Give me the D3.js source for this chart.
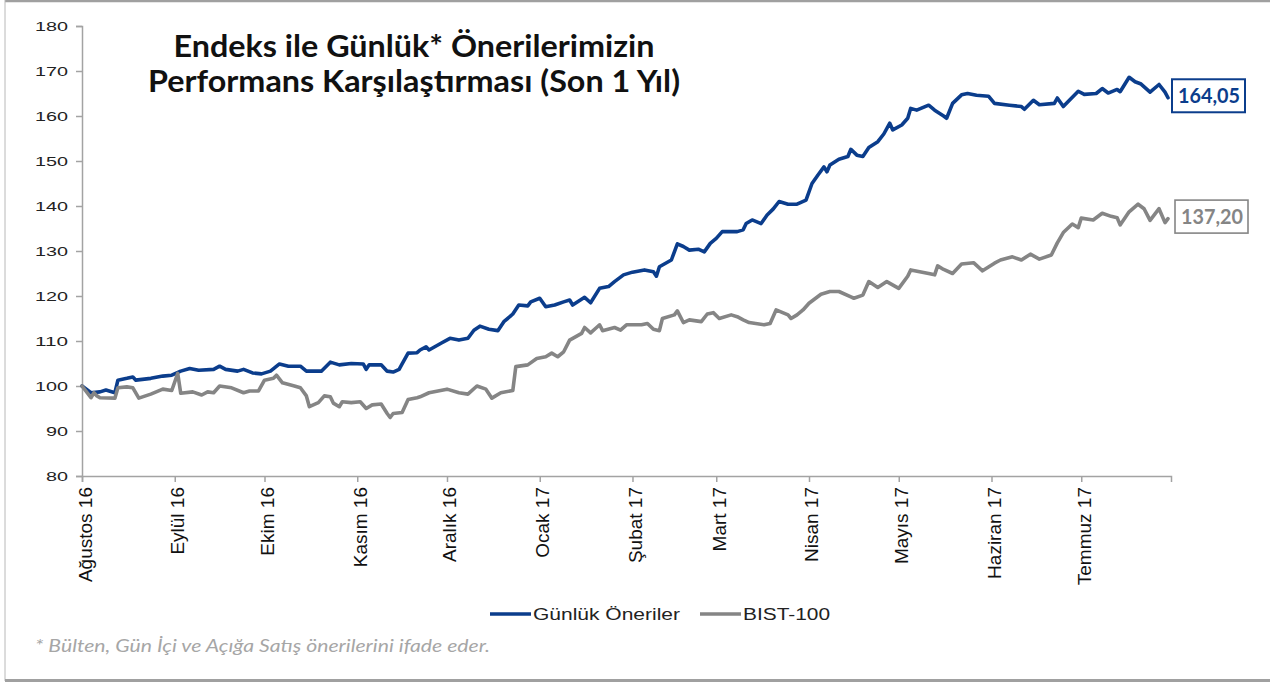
<!DOCTYPE html>
<html><head><meta charset="utf-8">
<script src="https://cdn.jsdelivr.net/npm/d3@7"></script>
<style>body{margin:0;background:#fff}svg{display:block}</style>
</head><body><svg id="c" width="1270" height="683"></svg>
<script>
const titleLines = ["Endeks ile Günlük* Önerilerimizin", "Performans Karşılaştırması (Son 1 Yıl)"];
const monthTicks = ["2016-08-01","2016-09-01","2016-10-01","2016-11-01","2016-12-01","2017-01-01","2017-02-01","2017-03-01","2017-04-01","2017-05-01","2017-06-01","2017-07-01"];
const monthLabels = ["Ağustos 16","Eylül 16","Ekim 16","Kasım 16","Aralık 16","Ocak 17","Şubat 17","Mart 17","Nisan 17","Mayıs 17","Haziran 17","Temmuz 17"];
const yTicks = [80,90,100,110,120,130,140,150,160,170,180];
const seriesNames = ["Günlük Öneriler","BIST-100"];
const endLabels = ["164,05","137,20"];
const footnote = "* Bülten, Gün İçi ve Açığa Satış önerilerini ifade eder.";

const gunlukDates = ["2016-08-01","2016-08-04","2016-08-07","2016-08-09","2016-08-12","2016-08-13","2016-08-16","2016-08-18","2016-08-19","2016-08-24","2016-08-28","2016-08-31",
"2016-09-03","2016-09-06","2016-09-09","2016-09-14","2016-09-16","2016-09-18","2016-09-22","2016-09-24","2016-09-27","2016-09-30",
"2016-10-03","2016-10-06","2016-10-09","2016-10-13","2016-10-15","2016-10-20","2016-10-23","2016-10-26","2016-10-30",
"2016-11-03","2016-11-04","2016-11-05","2016-11-09","2016-11-11","2016-11-13","2016-11-15","2016-11-16","2016-11-18","2016-11-21","2016-11-22","2016-11-24","2016-11-25","2016-11-29",
"2016-12-02","2016-12-05","2016-12-08","2016-12-10","2016-12-12","2016-12-15","2016-12-18","2016-12-20","2016-12-22","2016-12-23","2016-12-25","2016-12-28","2016-12-29",
"2017-01-01","2017-01-03","2017-01-06","2017-01-09","2017-01-11","2017-01-12","2017-01-16","2017-01-18","2017-01-21","2017-01-24","2017-01-26","2017-01-29",
"2017-02-01","2017-02-05","2017-02-08","2017-02-09","2017-02-10","2017-02-14","2017-02-16","2017-02-18","2017-02-20","2017-02-23","2017-02-25","2017-02-27",
"2017-03-01","2017-03-03","2017-03-08","2017-03-10","2017-03-11","2017-03-13","2017-03-16","2017-03-18","2017-03-20","2017-03-22","2017-03-25","2017-03-28","2017-03-31",
"2017-04-02","2017-04-04","2017-04-06","2017-04-07","2017-04-08","2017-04-11","2017-04-14","2017-04-15","2017-04-17","2017-04-19","2017-04-21","2017-04-24","2017-04-26","2017-04-28","2017-04-29",
"2017-05-02","2017-05-04","2017-05-05","2017-05-07","2017-05-11","2017-05-13","2017-05-16","2017-05-17","2017-05-19","2017-05-22","2017-05-24","2017-05-27","2017-05-31",
"2017-06-02","2017-06-07","2017-06-11","2017-06-12","2017-06-15","2017-06-17","2017-06-22","2017-06-23","2017-06-25","2017-06-30",
"2017-07-02","2017-07-06","2017-07-08","2017-07-10","2017-07-13","2017-07-14","2017-07-17","2017-07-19","2017-07-21","2017-07-24","2017-07-27","2017-07-29","2017-07-30"];
const gunlukValues = [100,98.5,98.7,99.1,98.5,101.3,101.7,102.0,101.3,101.7,102.2,102.4,
103.3,103.9,103.5,103.7,104.4,103.7,103.3,103.7,102.9,102.7,
103.3,104.9,104.4,104.4,103.3,103.3,105.3,104.7,105.0,
104.9,103.7,104.7,104.7,103.3,103.1,103.7,104.9,107.3,107.4,108.0,108.7,108.0,109.5,
110.6,110.2,110.6,112.4,113.3,112.6,112.3,114.3,115.4,116.0,118.0,117.8,118.7,
119.5,117.6,118.0,118.7,119.1,118.0,119.7,118.5,121.7,122.1,123.2,124.7,
125.3,125.8,125.4,124.4,126.5,128.0,131.6,131.0,130.2,130.4,129.8,131.7,
132.8,134.3,134.3,134.7,136.1,136.9,136.1,138.0,139.3,141.0,140.4,140.4,141.3,
145.0,146.9,148.7,147.6,149.1,150.4,151.0,152.6,151.3,151.0,153.0,154.3,156.0,158.4,156.9,
158.0,159.5,161.7,161.3,162.4,161.3,160.0,159.5,162.8,164.7,165.0,164.6,164.4,
162.8,162.4,162.1,161.5,163.5,162.5,162.8,164.0,162.1,165.5,
164.8,165.0,166.1,165.1,165.9,165.4,168.6,167.6,167.1,165.3,167.0,165.3,164.05];

const bistDates = ["2016-08-01","2016-08-04","2016-08-05","2016-08-06","2016-08-07","2016-08-12","2016-08-13","2016-08-16","2016-08-18","2016-08-20","2016-08-24","2016-08-28","2016-08-31",
"2016-09-02","2016-09-03","2016-09-07","2016-09-10","2016-09-12","2016-09-14","2016-09-16","2016-09-20","2016-09-24","2016-09-26","2016-09-29",
"2016-10-01","2016-10-04","2016-10-05","2016-10-07","2016-10-11","2016-10-13","2016-10-15","2016-10-16","2016-10-19","2016-10-21","2016-10-23","2016-10-24","2016-10-26","2016-10-27","2016-10-30",
"2016-11-02","2016-11-04","2016-11-06","2016-11-09","2016-11-11","2016-11-12","2016-11-13","2016-11-16","2016-11-18","2016-11-21","2016-11-22","2016-11-25",
"2016-12-01","2016-12-05","2016-12-08","2016-12-11","2016-12-14","2016-12-16","2016-12-19","2016-12-23","2016-12-24","2016-12-28","2016-12-31",
"2017-01-03","2017-01-05","2017-01-07","2017-01-09","2017-01-11","2017-01-15","2017-01-16","2017-01-18","2017-01-20","2017-01-21","2017-01-22","2017-01-26","2017-01-28","2017-01-30",
"2017-02-04","2017-02-06","2017-02-08","2017-02-10","2017-02-11","2017-02-15","2017-02-16","2017-02-18","2017-02-20","2017-02-24","2017-02-26","2017-02-28",
"2017-03-02","2017-03-06","2017-03-08","2017-03-10","2017-03-12","2017-03-17","2017-03-19","2017-03-21","2017-03-25","2017-03-26","2017-03-28","2017-03-30",
"2017-04-01","2017-04-05","2017-04-08","2017-04-11","2017-04-15","2017-04-16","2017-04-19","2017-04-21","2017-04-24","2017-04-27",
"2017-05-01","2017-05-04","2017-05-05","2017-05-11","2017-05-13","2017-05-14","2017-05-16","2017-05-19","2017-05-22","2017-05-26","2017-05-29",
"2017-06-02","2017-06-04","2017-06-08","2017-06-11","2017-06-14","2017-06-17","2017-06-21","2017-06-23","2017-06-25","2017-06-28","2017-06-30",
"2017-07-01","2017-07-05","2017-07-08","2017-07-11","2017-07-13","2017-07-14","2017-07-17","2017-07-20","2017-07-22","2017-07-24","2017-07-27","2017-07-29","2017-07-30"];
const bistValues = [100,97.4,98.5,97.8,97.4,97.3,99.6,99.8,99.6,97.3,98.2,99.3,99.0,
102.8,98.4,98.7,98.0,98.7,98.5,100,99.6,98.5,98.9,98.9,
101.3,101.7,102.4,100.7,100,99.6,97.8,95.4,96.3,97.8,97.6,96.2,95.4,96.5,96.3,
96.5,95.0,95.8,96.0,93.9,93.0,93.9,94.1,97.0,97.4,97.6,98.5,
99.3,98.5,98.2,100,99.3,97.3,98.5,99.0,104.3,104.7,106.1,
106.5,107.3,106.5,107.6,110.2,111.7,113.0,111.8,113.0,113.6,112.3,113.0,112.4,113.6,
113.6,113.9,112.6,112.3,115.0,115.8,116.7,114.1,114.7,114.3,116.0,116.3,
115.0,115.8,115.4,114.7,114.1,113.6,113.9,116.9,115.8,115.0,115.8,116.9,
118.4,120.4,121.0,121.0,119.8,119.5,120.2,123.2,121.9,123.2,
121.7,124.4,125.8,125.0,124.7,126.7,125.9,125.0,127.1,127.4,125.6,
127.3,128.0,128.7,128.0,129.3,128.2,129.1,131.8,134.1,136.0,135.2,
137.3,136.9,138.4,137.7,137.4,135.8,138.7,140.4,139.4,136.8,139.4,136.3,137.2];

const BLUE = "#0b3d8c", GRAY = "#858585", AXIS = "#a3a3a3";
const svg = d3.select("#c");
const parse = d3.timeParse("%Y-%m-%d");

// frame
svg.append("line").attr("x1",5).attr("x2",1270).attr("y1",1).attr("y2",1).attr("stroke","#a0a0a0").attr("stroke-width",2.5);
svg.append("line").attr("x1",5).attr("x2",5).attr("y1",0).attr("y2",681).attr("stroke","#b8b8b8").attr("stroke-width",1);
svg.append("line").attr("x1",5).attr("x2",1270).attr("y1",680.5).attr("y2",680.5).attr("stroke","#a0a0a0").attr("stroke-width",3);

const x = d3.scaleTime().domain([parse("2016-08-01"), parse("2017-07-31")]).range([82, 1171]);
const y = d3.scaleLinear().domain([80, 180]).range([476, 26]);

// y axis
const yAxis = svg.append("g").attr("transform","translate(82,0)")
  .call(d3.axisLeft(y).tickValues(yTicks).tickSize(6).tickPadding(8).tickFormat(d3.format("d")));
yAxis.select(".domain").attr("stroke",AXIS).attr("stroke-width",1.5);
yAxis.selectAll(".tick line").attr("stroke",AXIS).attr("stroke-width",1.5);
yAxis.selectAll(".tick text").attr("font-family","'Liberation Sans', Arial, sans-serif").attr("font-size",13)
  .attr("fill","#222").attr("x",-14)
  .attr("textLength", d => String(d).length * 11).attr("lengthAdjust","spacingAndGlyphs");

// x axis
const xAxis = svg.append("g").attr("transform","translate(0,476)")
  .call(d3.axisBottom(x).tickValues(monthTicks.map(parse)).tickSize(6).tickFormat((d,i) => monthLabels[i]));
xAxis.select(".domain").attr("stroke",AXIS).attr("stroke-width",1.5);
xAxis.selectAll(".tick line").attr("stroke",AXIS).attr("stroke-width",1.5);
xAxis.selectAll(".tick text").attr("font-family","'Liberation Sans', Arial, sans-serif").attr("font-size",19)
  .attr("fill","#111").attr("text-anchor","end").attr("transform","rotate(-90)")
  .attr("x",-11).attr("y",9).attr("dy",0);

// lines
const line = d3.line().x(d => x(d[0])).y(d => y(d[1]));
const gData = gunlukDates.map((d,i) => [parse(d), gunlukValues[i]]);
const bData = bistDates.map((d,i) => [parse(d), bistValues[i]]);
svg.append("path").datum(gData).attr("d",line).attr("fill","none").attr("stroke",BLUE).attr("stroke-width",3.6).attr("stroke-linejoin","round").attr("stroke-linecap","round");
svg.append("path").datum(bData).attr("d",line).attr("fill","none").attr("stroke",GRAY).attr("stroke-width",3.6).attr("stroke-linejoin","round").attr("stroke-linecap","round");

// end labels
[[gData, BLUE, endLabels[0], 1172], [bData, GRAY, endLabels[1], 1175]].forEach(([data, col, lab, bx]) => {
  const last = data[data.length-1];
  const cy = y(last[1]) - 2;
  svg.append("rect").attr("x",bx).attr("y",cy-16.5).attr("width",73).attr("height",33)
    .attr("fill","#fff").attr("stroke",col).attr("stroke-width",col===BLUE?2:1.6);
  svg.append("text").attr("x",bx+37).attr("y",cy+7).attr("text-anchor","middle")
    .attr("font-family","Lato, 'Open Sans', sans-serif").attr("font-weight",700).attr("font-size",20)
    .attr("fill",col).attr("textLength",62).attr("lengthAdjust","spacingAndGlyphs").text(lab);
});

// title
const tl = [[57, 481], [92, 532]];
titleLines.forEach((t,i) => {
  svg.append("text").attr("x",414).attr("y",tl[i][0]).attr("text-anchor","middle")
    .attr("font-family","Lato, 'Open Sans', sans-serif").attr("font-weight",700).attr("font-size",31)
    .attr("fill","#111").attr("textLength",tl[i][1]).attr("lengthAdjust","spacingAndGlyphs").text(t);
});

// legend
const lg = [[490, BLUE, 147], [700, GRAY, 87]];
seriesNames.forEach((n,i) => {
  const [lx, col, tw] = lg[i];
  svg.append("line").attr("x1",lx).attr("x2",lx+41).attr("y1",614).attr("y2",614).attr("stroke",col).attr("stroke-width",3.6);
  svg.append("text").attr("x",lx+43).attr("y",620).attr("font-family","'Liberation Sans', Arial, sans-serif")
    .attr("font-size",16).attr("fill","#222").attr("textLength",tw).attr("lengthAdjust","spacingAndGlyphs").text(n);
});

// footnote
svg.append("text").attr("x",35).attr("y",652).attr("font-family","Lato, 'Open Sans', sans-serif")
  .attr("font-style","italic").attr("font-size",17).attr("fill","#a6a6a6")
  .attr("textLength",455).attr("lengthAdjust","spacingAndGlyphs").text(footnote);
</script></body></html>
